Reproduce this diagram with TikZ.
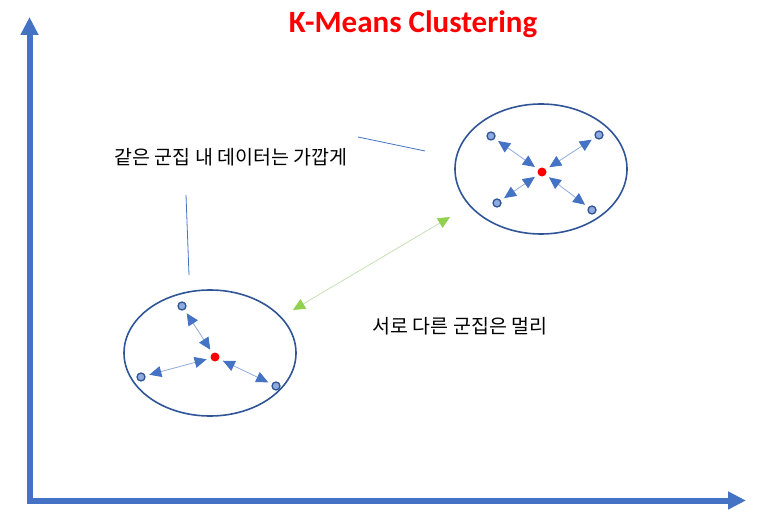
\documentclass[tikz,border=0pt]{standalone}
\usepackage{fontspec}
\setmainfont{Carlito}
\newfontfamily\krfont{Noto Sans CJK KR}
\usepackage{tikz}
\usetikzlibrary{arrows.meta, positioning, shapes.geometric}
\definecolor{axisblue}{HTML}{4472C4}
\definecolor{ringblue}{HTML}{2F5597}
\definecolor{ptblue}{HTML}{8FAADC}
\definecolor{lgreen}{HTML}{C5E0B4}
\definecolor{tipgreen}{HTML}{92D050}

\begin{document}
\begin{tikzpicture}[x=1pt, y=-1pt,
                    axis/.style={line width=6pt, axisblue, -{Triangle[length=18pt, width=17pt]}},
                    ring/.style={draw=ringblue, line width=1.6pt, ellipse, inner sep=0pt},
                    pt/.style={draw=ringblue, circle, fill=ptblue, line width=1.3pt, minimum size=8pt, inner sep=0pt},
                    ctr/.style={circle, fill=red, minimum size=9pt, inner sep=0pt},
                    link/.style={ptblue, line width=0.8pt, shorten <=4pt, shorten >=4pt,
                                 {Triangle[color=axisblue, length=12pt, width=11pt]}-{Triangle[color=axisblue, length=12pt, width=11pt]}},
                    apart/.style={lgreen, line width=0.8pt,
                                 {Triangle[color=tipgreen, length=12pt, width=11pt]}-{Triangle[color=tipgreen, length=12pt, width=11pt]}},
                    callout/.style={axisblue, line width=0.8pt},
                    note/.style={font=\krfont\fontsize{19.5}{22}\selectfont}]
                \useasboundingbox (0,0) rectangle (768,521);
                % axes
                \coordinate (o) at (29.5,500.5);
                \coordinate (ytop) at (29.5,17);
                \coordinate (xend) at (746,500.5);
                \draw[axis] ([yshift=-3pt]o) -- (ytop);
                \draw[axis] ([xshift=-3pt]o) -- (xend);
                \node[font=\bfseries\fontsize{31}{36}\selectfont, text=red, anchor=base] (title) at (413,33) {K-Means Clustering};
                % clusters
                \node[ring, minimum width=172pt, minimum height=130pt] (cl1) at (541,169) {};
                \node[ring, minimum width=172pt, minimum height=126pt] (cl2) at (210,353) {};
                \node[ctr] (c1) at (542,172) {};
                \node[ctr] (c2) at (215,357) {};
                \foreach \n/\x/\y in {a/491/136, b/599/135, c/497/203, d/592/210}{
                        \node[pt] (p\n) at (\x,\y) {};
                        \draw[link] (p\n) -- (c1);
                    }
                \foreach \n/\x/\y in {e/182/306, f/141/377, g/276/386}{
                        \node[pt] (p\n) at (\x,\y) {};
                        \draw[link] (p\n) -- (c2);
                    }
                % between clusters
                \coordinate (g1) at (293,310);
                \coordinate (g2) at (450,217);
                \draw[apart] (g1) -- (g2);
                % labels
                \node[note] (near) at (231,157.5) {같은 군집 내 데이터는 가깝게};
                \node[note] (far) at (460,326.5) {서로 다른 군집은 멀리};
                \coordinate (n1) at (358,137);
                \coordinate (n2) at (425,151);
                \coordinate (n3) at (186,195);
                \coordinate (n4) at (189,275);
                \draw[callout] (n1) -- (n2);
                \draw[callout] (n3) -- (n4);
            \end{tikzpicture}
\end{document}
